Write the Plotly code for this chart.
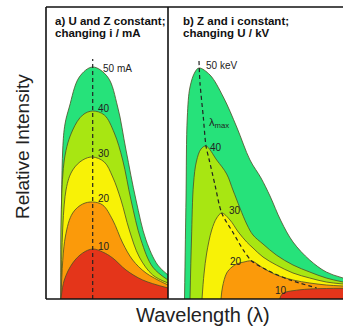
import plotly.graph_objects as go

# ---------------- data (arbitrary units) ----------------
# Panel a) U and Z constant, changing tube current i (mA)
a_labels = ["50 mA", "40", "30", "20", "10"]
a_50_x = [15, 16.7, 19, 23.3, 33.3, 46.7, 61.7, 71.7, 80, 90, 100, 111.7, 122]
a_50_y = [0, 149, 175, 192, 222, 232, 222, 192, 149, 99, 59, 34, 24]
a_40_x = [15, 18.3, 26.7, 36.7, 46.7, 58.3, 68.3, 76.7, 85, 95, 106.7, 122]
a_40_y = [0, 139, 169, 184, 188, 184, 166, 139, 99, 59, 32, 19]
a_30_x = [15, 20, 26.7, 36.7, 46.7, 58.3, 66.7, 75, 83.3, 93.3, 106.7, 122]
a_30_y = [0, 109, 129, 139, 142, 137, 122, 99, 69, 42, 24, 16]
a_20_x = [15, 19.3, 26.7, 36.7, 46.7, 56.7, 66.7, 76.7, 86.7, 100, 122]
a_20_y = [0, 62, 86, 95, 97, 94, 79, 56, 39, 26, 14]
a_10_x = [15, 18.3, 26.7, 36.7, 46.7, 56.7, 66.7, 80, 96.7, 122]
a_10_y = [0, 19, 36, 46, 50, 47, 41, 29, 19, 11]
a_peak_x = [46.7, 46.7]
a_peak_y = [0, 240]

# Panel b) Z and i constant, changing tube voltage U (kV)
b_labels = ["50 keV", "40", "30", "20", "10"]
b_50_x = [16.5, 18, 19.3, 22, 27, 31, 42, 55.3, 68.7, 82, 93, 102, 113, 125, 141.7, 158.3, 175]
b_50_y = [0, 100, 182, 212, 227, 231, 224, 202, 172, 139, 121, 103, 78, 57, 39, 27, 21]
b_40_x = [22, 23.5, 25.5, 28.5, 33, 38, 48.7, 58.7, 65.3, 78.7, 85, 95, 108.3, 125, 141.7, 158.3, 175]
b_40_y = [0, 60, 115, 138, 150, 153, 139, 125, 108, 75, 64, 55, 44, 34, 27, 21, 17]
b_30_x = [34, 36, 38.7, 43.7, 48.7, 53.7, 62, 70.3, 78.7, 85, 95, 108.3, 125, 141.7, 158.3, 175]
b_30_y = [0, 25, 46, 69, 81, 86, 79, 67, 57, 51, 42, 34, 26, 21, 17, 15]
b_20_x = [53, 54.5, 58.7, 64, 68.7, 76, 83.7, 95, 108.3, 125, 141.7, 158.3, 175]
b_20_y = [0, 12, 26, 32, 35, 37, 38, 31, 24, 19, 16, 14, 13]
b_10_x = [111.7, 113, 115, 120, 125, 132, 141.7, 158.3, 175]
b_10_y = [0, 3.5, 5.7, 7.5, 8.3, 9.2, 10, 10.5, 10.7]
b_peak_x = [31, 32, 35.3, 38, 41, 47, 53.7, 65.3, 75.3, 83.7, 98.7, 122, 148.7]
b_peak_y = [238, 216, 182, 153, 140, 114, 86, 66, 49, 38, 29, 19, 11]

# label anchor positions (data units)
a_lab_x = [55, 50, 50, 50, 50]
a_lab_y = [231, 191, 145.5, 101, 53]
b_lab_x = [36, 40, 58.7, 60, 104.7]
b_lab_y = [234, 152, 88.5, 38, 8.5]

colors = ["#26e27a", "#a8e612", "#f8f206", "#fb9a0a", "#e4351a"]
edge = "#4d4d26"

W, H = 343, 329
L, MID, R = 46, 168, 343
TOP, BOT = 7, 299


def px_x(p):
    return p / W


def px_y(p):
    return (H - p) / H


fig = go.Figure()

a_series = [(a_50_x, a_50_y), (a_40_x, a_40_y), (a_30_x, a_30_y), (a_20_x, a_20_y), (a_10_x, a_10_y)]
b_series = [(b_50_x, b_50_y), (b_40_x, b_40_y), (b_30_x, b_30_y), (b_20_x, b_20_y), (b_10_x, b_10_y)]

for (xs, ys), c in zip(a_series, colors):
    fig.add_trace(go.Scatter(x=xs, y=ys, mode="lines", fill="tozeroy", fillcolor=c,
                             line=dict(color=edge, width=0.8, shape="spline", smoothing=1.0),
                             xaxis="x", yaxis="y", hoverinfo="skip", showlegend=False))
for (xs, ys), c in zip(b_series, colors):
    fig.add_trace(go.Scatter(x=xs, y=ys, mode="lines", fill="tozeroy", fillcolor=c,
                             line=dict(color=edge, width=0.8, shape="spline", smoothing=1.0),
                             xaxis="x2", yaxis="y2", hoverinfo="skip", showlegend=False))

fig.add_trace(go.Scatter(x=a_peak_x, y=a_peak_y, mode="lines",
                         line=dict(color="#222", width=1.2, dash="4px,3px"),
                         xaxis="x", yaxis="y", hoverinfo="skip", showlegend=False))
fig.add_trace(go.Scatter(x=b_peak_x, y=b_peak_y, mode="lines",
                         line=dict(color="#222", width=1.2, dash="4px,3px", shape="spline", smoothing=0.8),
                         xaxis="x2", yaxis="y2", hoverinfo="skip", showlegend=False))

lab_font = dict(family="Liberation Sans, Arial, sans-serif", size=10, color="#222")
ann = []
for t, x, y in zip(a_labels, a_lab_x, a_lab_y):
    ann.append(dict(text=t, x=x, y=y, xref="x", yref="y", xanchor="left", yanchor="middle",
                    showarrow=False, font=lab_font))
for t, x, y in zip(b_labels, b_lab_x, b_lab_y):
    ann.append(dict(text=t, x=x, y=y, xref="x2", yref="y2", xanchor="left", yanchor="middle",
                    showarrow=False, font=lab_font))
ann.append(dict(text="λ<sub>max</sub>", x=38.7, y=176.5, xref="x2", yref="y2", xanchor="left",
                yanchor="middle", showarrow=False, font=dict(family="Liberation Sans, Arial", size=11, color="#222")))

title_font = dict(family="Liberation Sans, Arial, sans-serif", size=11.5, color="#111")
for txt, x, y in [("<b>a) U and Z constant;</b>", 53, 21), ("<b>changing i / mA</b>", 53, 33),
                  ("<b>b) Z and i constant;</b>", 181, 21), ("<b>changing U / kV</b>", 181, 33)]:
    ann.append(dict(text=txt, x=px_x(x), y=px_y(y), xref="paper", yref="paper", xanchor="left",
                    yanchor="middle", showarrow=False, font=title_font))

axis_font = dict(family="Liberation Sans, Arial, sans-serif", size=19, color="#222")
ann.append(dict(text="Relative Intensity", x=px_x(22), y=px_y(147), xref="paper", yref="paper",
                textangle=-90, showarrow=False, xanchor="center", yanchor="middle", font=axis_font))
ann.append(dict(text="Wavelength (λ)", x=px_x(203), y=px_y(315), xref="paper", yref="paper",
                showarrow=False, xanchor="center", yanchor="middle",
                font=dict(family="Liberation Sans, Arial, sans-serif", size=20, color="#222")))

line_style = dict(color="#111", width=1.6)
shapes = [
    dict(type="line", xref="paper", yref="paper", x0=px_x(L), x1=px_x(R), y0=px_y(TOP), y1=px_y(TOP), line=line_style, layer="above"),
    dict(type="line", xref="paper", yref="paper", x0=px_x(L), x1=px_x(R), y0=px_y(BOT), y1=px_y(BOT), line=line_style, layer="above"),
    dict(type="line", xref="paper", yref="paper", x0=px_x(L), x1=px_x(L), y0=px_y(TOP), y1=px_y(BOT), line=line_style, layer="above"),
    dict(type="line", xref="paper", yref="paper", x0=px_x(MID), x1=px_x(MID), y0=px_y(TOP), y1=px_y(BOT), line=line_style, layer="above"),
]

hidden = dict(showgrid=False, zeroline=False, showticklabels=False, ticks="", showline=False)
fig.update_layout(
    width=W, height=H, margin=dict(l=0, r=0, t=0, b=0),
    paper_bgcolor="white", plot_bgcolor="white",
    xaxis=dict(domain=[px_x(L), px_x(MID)], range=[0, MID - L], **hidden),
    yaxis=dict(domain=[px_y(BOT), px_y(TOP)], range=[0, BOT - TOP], **hidden),
    xaxis2=dict(domain=[px_x(MID), 1], range=[0, R - MID], anchor="y2", **hidden),
    yaxis2=dict(domain=[px_y(BOT), px_y(TOP)], range=[0, BOT - TOP], anchor="x2", **hidden),
    annotations=ann, shapes=shapes,
)

fig.write_html("out.html")
